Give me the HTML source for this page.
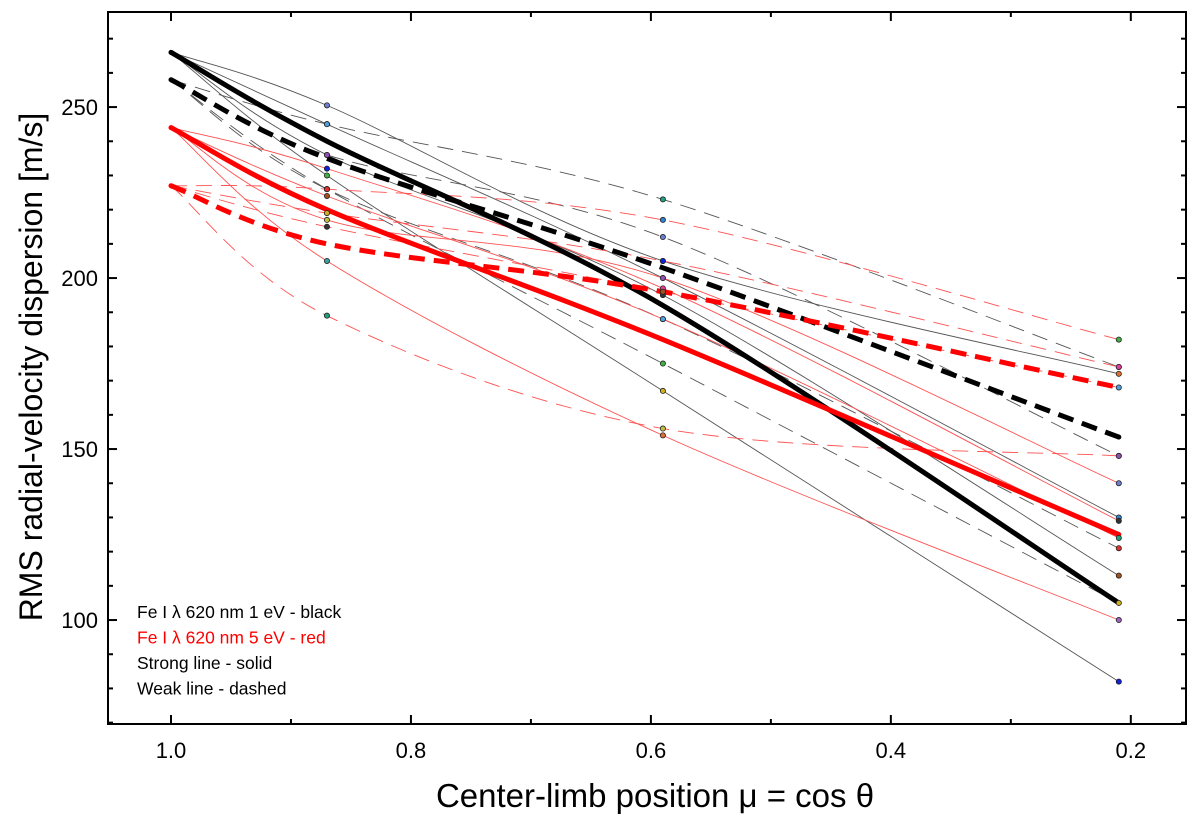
<!DOCTYPE html>
<html><head><meta charset="utf-8"><style>
body{margin:0;background:#fff;}
svg text{font-family:"Liberation Sans",sans-serif;}
</style></head><body>
<svg id="c" width="1200" height="817" xmlns="http://www.w3.org/2000/svg"></svg>
<script>
const muValues=[1.0,0.87,0.59,0.21];
const thickBlackSolid=[266,240,192,105];
const thickBlackDashed=[258,235,203,153.5];
const thickRedSolid=[244,220,182,125];
const thickRedDashed=[227,210,196,168];
const thinBlackSolid=[[266,250.5,205,172],[266,245,200,130],[266,230,167,82],[266,236,195,113]];
const thinBlackDashed=[[258,245,223,174],[258,236,212,148],[258,226,188,121],[258,226,175,105]];
const thinRedSolid=[[244,232,197,129],[244,224,188,124],[244,217,200,140],[244,205,154,100]];
const thinRedDashed=[[227,226,217,182],[227,219,205,174],[227,215,196,168],[227,189,156,148]];
const dotColors=["#6b7fd1","#3aa0a0","#e07030","#a060c0","#e03030","#3080d0","#40b040","#d0b020","#1020e0","#e040a0","#333","#a05020","#50a0e0","#20a080","#c0c040","#9050b0"];
const xTicks=[1.0,0.8,0.6,0.4,0.2];
const yTicks=[100,150,200,250];

const L=108,R=1186,T=12,B=724;
const xMin=1.0525,xMax=0.154,yMin=69.6,yMax=277.8;
const X=v=>L+(xMin-v)/(xMin-xMax)*(R-L);
const Y=v=>B-(v-yMin)/(yMax-yMin)*(B-T);
const svg=document.getElementById('c');
const NS="http://www.w3.org/2000/svg";
function mk(tag,attrs,parent){const e=document.createElementNS(NS,tag);for(const k in attrs)e.setAttribute(k,attrs[k]);(parent||svg).appendChild(e);return e;}
function pathD(vals){
  const p=vals.map((v,i)=>[X(muValues[i]),Y(v)]);
  let d=`M${p[0][0]},${p[0][1]}`;
  for(let i=0;i<p.length-1;i++){
    const p0=p[i-1]||p[i],p1=p[i],p2=p[i+1],p3=p[i+2]||p[i+1];
    const c1=[p1[0]+(p2[0]-p0[0])/6,p1[1]+(p2[1]-p0[1])/6];
    const c2=[p2[0]-(p3[0]-p1[0])/6,p2[1]-(p3[1]-p1[1])/6];
    d+=` C${c1[0]},${c1[1]} ${c2[0]},${c2[1]} ${p2[0]},${p2[1]}`;
  }
  return d;
}
const frame=mk('rect',{x:L,y:T,width:R-L,height:B-T,fill:'none',stroke:'#000','stroke-width':2});


for(let v=70;v<=270;v+=10){
  const y=Y(v),len=v%50===0?9:5;
  mk('line',{x1:L,x2:L+len,y1:y,y2:y,stroke:'#000','stroke-width':2});
  mk('line',{x1:R,x2:R-len,y1:y,y2:y,stroke:'#000','stroke-width':2});
}
yTicks.forEach(v=>{const t=mk('text',{x:L-10,y:Y(v)+8,'text-anchor':'end','font-size':22});t.textContent=v;

});
for(let i=2;i<=10;i++){const v=i/10,x=X(v),len=(i%2===0)?9:5;
  mk('line',{x1:x,x2:x,y1:B,y2:B-len,stroke:'#000','stroke-width':2});
  mk('line',{x1:x,x2:x,y1:T,y2:T+len,stroke:'#000','stroke-width':2});}
xTicks.forEach(v=>{const t=mk('text',{x:X(v),y:B+34,'text-anchor':'middle','font-size':22});t.textContent=v.toFixed(1);

});
const xt=mk('text',{x:655,y:807,'text-anchor':'middle','font-size':33});xt.textContent='Center-limb position μ = cos θ';


const yt=mk('text',{x:42,y:367,'text-anchor':'middle','font-size':32,transform:'rotate(-90 42 367)'});yt.textContent='RMS radial-velocity dispersion [m/s]';


const groups=[[thinBlackSolid,'#555',null],[thinBlackDashed,'#555','16 9'],[thinRedSolid,'#ff5050',null],[thinRedDashed,'#ff5050','16 9']];
let ci=0;
const dots=[];
groups.forEach(([arr,col,dash])=>arr.forEach(vals=>{
  const p=mk('path',{d:pathD(vals),fill:'none',stroke:col,'stroke-width':0.9});
  if(dash)p.setAttribute('stroke-dasharray',dash);
  
  
  for(let i=1;i<vals.length;i++)dots.push([muValues[i],vals[i],dotColors[(ci++)%dotColors.length]]);
}));
[[thickBlackSolid,'#000',null,'thick-black-solid'],[thickBlackDashed,'#000','16 9','thick-black-dashed'],[thickRedSolid,'#ff0000',null,'thick-red-solid'],[thickRedDashed,'#ff0000','16 9','thick-red-dashed']].forEach(([vals,col,dash,nm])=>{
  const p=mk('path',{d:pathD(vals),fill:'none',stroke:col,'stroke-width':5});
  if(dash)p.setAttribute('stroke-dasharray',dash);
  
  
  [0,3].forEach(i=>mk('circle',{cx:X(muValues[i]),cy:Y(vals[i]),r:2.5,fill:col}));
});
dots.forEach(([m,v,c])=>{const d=mk('circle',{cx:X(m),cy:Y(v),r:2.6,fill:c,stroke:'#222','stroke-width':0.8});

});
const leg=[['Fe I λ 620 nm 1 eV - black','#000'],['Fe I λ 620 nm 5 eV - red','#ff0000'],['Strong line - solid','#000'],['Weak line - dashed','#000']];
leg.forEach(([t,c],i)=>{const e=mk('text',{x:137,y:618+i*25.5,'font-size':17.5,fill:c});e.textContent=t;

});
</script>
</body></html>
